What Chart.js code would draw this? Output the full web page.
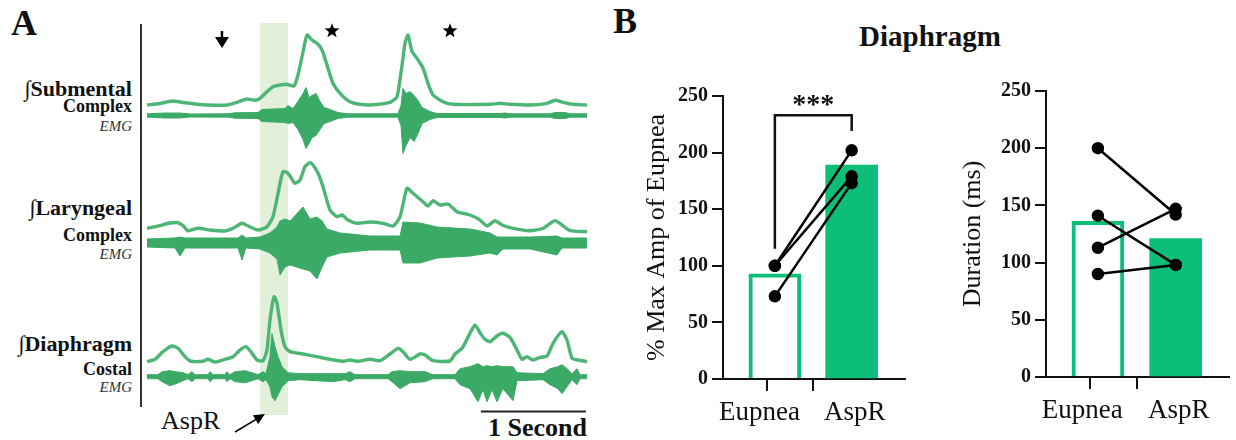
<!DOCTYPE html>
<html>
<head>
<meta charset="utf-8">
<script src="https://cdn.jsdelivr.net/npm/chart.js@4.4.0/dist/chart.umd.min.js"></script>
<style>
html, body { margin: 0; padding: 0; background: #fff; }
body { width: 1236px; height: 440px; position: relative; overflow: hidden;
       font-family: 'Liberation Serif', 'Times New Roman', serif; color: #111; }
canvas { position: absolute; }
.lbl { position: absolute; white-space: nowrap; line-height: 1; }
.trk { position: absolute; left: 0; width: 132px; text-align: right; line-height: 1; white-space: nowrap; }
.trk.name { font-size: 22px; font-weight: bold; }
.trk.sub { font-size: 18px; font-weight: bold; }
.trk.emg { font-size: 15px; font-style: italic; color: #333; }
.int { font-weight: normal; }
</style>
</head>
<body>
<div class="lbl" style="left:11px;top:5px;font-size:36px;font-weight:bold;">A</div>
<div class="lbl" style="left:613px;top:3px;font-size:36px;font-weight:bold;">B</div>
<div class="lbl" style="left:830px;top:22px;width:200px;text-align:center;font-size:29px;font-weight:bold;">Diaphragm</div>

<div class="trk name" style="top:78px;"><span class="int">∫</span>Submental</div>
<div class="trk sub" style="top:97px;">Complex</div>
<div class="trk emg" style="top:119px;">EMG</div>

<div class="trk name" style="top:197px;"><span class="int">∫</span>Laryngeal</div>
<div class="trk sub" style="top:226px;">Complex</div>
<div class="trk emg" style="top:247px;">EMG</div>

<div class="trk name" style="top:333px;"><span class="int">∫</span>Diaphragm</div>
<div class="trk sub" style="top:360px;">Costal</div>
<div class="trk emg" style="top:380px;">EMG</div>

<div class="lbl" style="left:161px;top:408px;font-size:26px;">AspR</div>
<div class="lbl" style="left:488px;top:415px;font-size:26px;font-weight:bold;">1 Second</div>

<canvas id="traces" width="450" height="417" style="left:140px;top:23px;"></canvas>
<canvas id="ampChart" width="272" height="358" style="left:640px;top:82px;"></canvas>
<canvas id="durChart" width="281" height="363" style="left:955px;top:77px;"></canvas>

<script>
// ---------- Panel A: recordings, time in s, amplitude in arbitrary units ----------
// integrated traces: [time, amplitude]
const submentalInt = [[0,0],[.124,1.5],[.238,4],[.343,2.5],[.476,0.7],[.571,0],[.762,0],[.857,2.7],[.952,6],[1.029,4.7],
  [1.076,6.7],[1.143,13.3],[1.2,18.3],[1.267,20],[1.333,20.7],[1.4,19],[1.438,30],[1.486,53],[1.524,70],[1.571,65],
  [1.619,61.7],[1.667,55],[1.714,40],[1.771,21.7],[1.838,11.7],[1.933,3.3],[2.029,0.7],[2.124,0],[2.314,2.7],[2.381,8.3],
  [2.429,40],[2.457,61.7],[2.486,70],[2.524,53.3],[2.571,46.7],[2.629,36.7],[2.676,21.7],[2.724,10],[2.819,3.3],[2.914,0.7],
  [3.267,0.7],[3.362,1.7],[3.457,0.7],[3.648,0],[3.81,1.7],[3.886,4.7],[3.962,2.7],[4.057,0.7],[4.19,0]];
const laryngealInt = [[0,3.7],[.124,6.3],[.2,8.7],[.295,9.3],[.343,6.3],[.39,1.3],[.486,3.7],[.6,2],[.743,1],[.819,3.7],
  [.905,8.7],[.962,6],[1.057,2],[1.143,5.3],[1.2,15.3],[1.248,38.7],[1.295,60.3],[1.343,58.7],[1.41,48.7],[1.457,52],
  [1.505,65.3],[1.552,69.3],[1.581,67],[1.629,58.7],[1.676,45.3],[1.743,22],[1.81,15.3],[1.857,17],[1.914,12],[2.0,8.7],
  [2.124,10],[2.248,8.7],[2.343,6],[2.41,15.3],[2.476,43.7],[2.533,38.7],[2.629,30.3],[2.676,26],[2.724,31.3],[2.79,27],
  [2.867,28],[2.952,20.3],[3.076,17],[3.171,12],[3.238,6],[3.314,11.3],[3.381,7],[3.486,3.7],[3.648,1.3],[3.771,3.7],
  [3.886,11.3],[3.952,7],[4.029,1.3],[4.19,0.3]];
const diaphragmInt = [[0,0.3],[.076,2.7],[.152,10.3],[.238,16],[.295,13.7],[.362,5.3],[.41,1],[.533,0.7],[.581,2.7],[.648,0],
  [.743,2.7],[.819,5.3],[.886,12],[.943,15.3],[1.0,8.7],[1.048,2],[1.105,1.3],[1.143,12],[1.171,42],[1.21,65.3],
  [1.238,58.7],[1.276,32],[1.314,15.3],[1.362,10.3],[1.486,8],[1.619,5.3],[1.743,2.7],[1.867,0.7],[1.933,2],[2.0,0.7],
  [2.124,2.7],[2.219,1.3],[2.314,8],[2.39,13.7],[2.438,10.3],[2.505,2.7],[2.6,8],[2.648,7],[2.724,1.3],[2.886,1],
  [2.933,8],[3.0,13.7],[3.076,28.7],[3.124,37],[3.171,29.3],[3.219,22.7],[3.267,20.3],[3.333,26],[3.39,28.7],[3.457,24.7],
  [3.524,12],[3.571,2.7],[3.619,5.3],[3.676,2],[3.743,4.7],[3.81,6],[3.867,18.7],[3.952,30.3],[4.0,22],[4.048,3.7],
  [4.105,2],[4.19,0.3]];

// raw EMG envelopes: [time, upper, lower]
const submentalEmg = [[0,1.7,1.7],[.171,2.5,2.5],[.314,2.5,2.5],[.41,1.5,1.5],[.771,1.7,1.7],[.838,2.7,2.7],[1.057,3,3],
  [1.095,6,6],[1.314,7,7],[1.343,10,8],[1.39,7,7],[1.438,14,14],[1.486,22,24],[1.514,28,33],[1.543,18,28],[1.571,20,22],
  [1.61,22,20],[1.648,14,14],[1.686,8,8],[1.743,6,6],[1.819,3,3],[1.905,1.7,1.7],[2.39,1.7,1.7],[2.419,10,10],
  [2.438,27,38],[2.467,22,30],[2.505,24,22],[2.543,20,26],[2.581,15,18],[2.619,8,8],[2.695,4,4],[2.762,2,2],
  [3.362,2,2],[3.41,2.5,2.5],[3.457,1.7,1.7],[3.838,1.7,1.7],[3.886,3,3],[3.981,3,3],[4.029,1.7,1.7],[4.19,1.7,1.7]];
const laryngealEmg = [[0,4,4],[.267,5,5],[.314,6,13],[.362,5,5],[.867,5,5],[.905,8,17],[.943,5,5],[1.076,6,6],
  [1.171,10,10],[1.238,16,16],[1.267,22,32],[1.314,24,24],[1.362,22,22],[1.486,36,26],[1.552,24,28],[1.619,26,36],
  [1.667,22,24],[1.714,14,14],[1.838,10,10],[2.124,7,7],[2.41,7,7],[2.438,21,20],[2.6,20,20],[2.762,16,15],
  [3.076,14,13],[3.267,10,10],[3.333,6,12],[3.39,6,6],[3.648,6,6],[3.905,7,12],[3.952,5,5],[4.19,5,5]];
const diaphragmEmg = [[0,2,2],[.105,2,2],[.143,5,5],[.219,6,9],[.276,5,7],[.343,4,4],[.39,2,2],[.429,5,5],[.457,2,2],
  [.581,2,2],[.6,5,5],[.629,2,2],[.743,2,2],[.762,5,5],[.79,2,2],[.838,5,5],[.933,6,6],[1.0,4,4],[1.057,2,2],
  [1.105,5,5],[1.133,3,3],[1.171,20,10],[1.19,43,20],[1.219,30,24],[1.248,20,18],[1.286,10,10],[1.343,4,4],
  [1.457,3,3],[1.771,3,5],[1.886,3,3],[1.933,5,5],[1.981,2,2],[2.295,2,2],[2.333,5,5],[2.41,6,12],[2.505,5,6],
  [2.648,5,5],[2.724,2,2],[2.933,2,2],[2.981,8,8],[3.076,10,12],[3.152,13,25],[3.2,10,13],[3.238,11,25],
  [3.286,10,13],[3.333,11,25],[3.39,10,12],[3.486,10,24],[3.524,4,4],[3.771,3,3],[3.838,8,8],[3.914,10,12],
  [3.952,12,17],[4.0,8,10],[4.048,3,3],[4.095,8,8],[4.124,2,2],[4.19,2,2]];

const aspRWindow = [1.076, 1.343];   // shaded aspiration reflex
const eupneaMarks = [0.714];         // arrow
const swallowMarks = [1.762, 2.886]; // stars
const scaleBar = [3.18, 1];          // start, length (s)

// ---------- Panel B: diaphragm ----------
const groups = ['Eupnea', 'AspR'];
const groupLabelShift = [-0.2, 0.04];  // labels sit a little off their tick marks
const yTicks = [0, 50, 100, 150, 200, 250];
const ampMeans = [93, 189];
const ampSubjects = [[100, 202], [100, 179], [73, 173]];
const ampSig = [233, 115, 219]; // bracket level, left drop, right drop
const durMeans = [136, 121];
const durSubjects = [[200, 142], [141, 98], [113, 147], [90, 98]];

const GREEN = '#0cbe78';
const INT_GREEN = '#4db575';
const EMG_GREEN = '#3aaa66';
const SERIF = "'Liberation Serif', 'Times New Roman', serif";

Chart.defaults.font.family = SERIF;
Chart.defaults.color = '#111';

// each hidden y axis puts its zero at a given pixel row, 1 unit = 1 px
const AREA_TOP = 23, AREA_BOTTOM = 415;
function track(baseY) {
  return { display: false, min: baseY - AREA_BOTTOM, max: baseY - AREA_TOP };
}

function intTrace(pts, axis) {
  return { data: pts.map(p => ({x: p[0], y: p[1]})), yAxisID: axis, borderColor: INT_GREEN,
           borderWidth: 3.4, pointRadius: 0, tension: 0.2, fill: false };
}
function emgBand(pts, axis) {
  return [
    { data: pts.map(p => ({x: p[0], y: p[1]})), yAxisID: axis, borderColor: EMG_GREEN,
      borderWidth: 1, pointRadius: 0, fill: false },
    { data: pts.map(p => ({x: p[0], y: -p[2]})), yAxisID: axis, borderColor: EMG_GREEN,
      backgroundColor: EMG_GREEN, borderWidth: 1, pointRadius: 0, fill: '-1' }
  ];
}

function star(ctx, cx, cy, r) {
  ctx.beginPath();
  for (let i = 0; i < 10; i++) {
    const a = -Math.PI / 2 + i * Math.PI / 5;
    const rr = i % 2 ? r * 0.42 : r;
    ctx.lineTo(cx + rr * Math.cos(a), cy + rr * Math.sin(a));
  }
  ctx.closePath();
  ctx.fill();
}

const traceDecor = {
  id: 'traceDecor',
  beforeDatasetsDraw(chart) {
    const {ctx, chartArea: a, scales: {x}} = chart;
    const xa = x.getPixelForValue(aspRWindow[0]), xb = x.getPixelForValue(aspRWindow[1]);
    ctx.save();
    ctx.fillStyle = '#e2efd9';
    ctx.fillRect(xa, a.top, xb - xa, a.bottom - a.top);
    ctx.fillStyle = '#333';
    ctx.fillRect(a.left, a.top + 1, 2, 383);
    ctx.restore();
  },
  afterDatasetsDraw(chart) {
    const {ctx, chartArea: a, scales: {x}} = chart;
    ctx.save();
    ctx.fillStyle = '#000';
    ctx.strokeStyle = '#000';
    eupneaMarks.forEach(t => {
      const px = x.getPixelForValue(t);
      ctx.lineWidth = 2.5;
      ctx.beginPath(); ctx.moveTo(px, a.top + 8); ctx.lineTo(px, a.top + 17); ctx.stroke();
      ctx.beginPath();
      ctx.moveTo(px - 7, a.top + 14); ctx.lineTo(px + 7, a.top + 14); ctx.lineTo(px, a.top + 25);
      ctx.closePath(); ctx.fill();
    });
    swallowMarks.forEach(t => star(ctx, x.getPixelForValue(t), a.top + 8, 7.8));
    // scale bar
    ctx.lineWidth = 2;
    ctx.strokeStyle = '#222';
    ctx.beginPath();
    ctx.moveTo(x.getPixelForValue(scaleBar[0]), a.bottom - 3.5);
    ctx.lineTo(x.getPixelForValue(scaleBar[0] + scaleBar[1]), a.bottom - 3.5);
    ctx.stroke();
    // arrow pointing at the AspR window
    const tipX = x.getPixelForValue(aspRWindow[0]) + 5, tipY = a.bottom - 1;
    const tailX = tipX - 30, tailY = tipY + 18;
    const ang = Math.atan2(tipY - tailY, tipX - tailX);
    ctx.strokeStyle = '#000';
    ctx.lineWidth = 1.5;
    ctx.beginPath(); ctx.moveTo(tailX, tailY); ctx.lineTo(tipX - 8 * Math.cos(ang), tipY - 8 * Math.sin(ang)); ctx.stroke();
    ctx.beginPath();
    ctx.moveTo(tipX, tipY);
    ctx.lineTo(tipX - 11 * Math.cos(ang) + 5 * Math.sin(ang), tipY - 11 * Math.sin(ang) - 5 * Math.cos(ang));
    ctx.lineTo(tipX - 11 * Math.cos(ang) - 5 * Math.sin(ang), tipY - 11 * Math.sin(ang) + 5 * Math.cos(ang));
    ctx.closePath(); ctx.fill();
    ctx.restore();
  }
};

new Chart(document.getElementById('traces'), {
  type: 'line',
  data: {
    datasets: [
      intTrace(submentalInt, 'sInt'),
      intTrace(laryngealInt, 'lInt'),
      intTrace(diaphragmInt, 'dInt'),
      ...emgBand(submentalEmg, 'sEmg'),
      ...emgBand(laryngealEmg, 'lEmg'),
      ...emgBand(diaphragmEmg, 'dEmg')
    ]
  },
  options: {
    responsive: false,
    animation: false,
    layout: { padding: { bottom: 25 } },
    plugins: { legend: { display: false }, tooltip: { enabled: false } },
    scales: {
      x: { type: 'linear', display: false, min: -0.0667, max: 4.219 },
      sInt: track(105),
      sEmg: track(115.5),
      lInt: track(232),
      lEmg: track(243),
      dInt: track(362),
      dEmg: track(376.7)
    }
  },
  plugins: [traceDecor]
});

const sigPlugin = {
  id: 'sig',
  afterDatasetsDraw(chart) {
    const {ctx, scales: {x, y}} = chart;
    const x0 = x.getPixelForValue(0), x1 = x.getPixelForValue(1);
    const yb = y.getPixelForValue(ampSig[0]);
    ctx.save();
    ctx.strokeStyle = '#111';
    ctx.lineWidth = 2.5;
    ctx.beginPath();
    ctx.moveTo(x0, y.getPixelForValue(ampSig[1]));
    ctx.lineTo(x0, yb);
    ctx.lineTo(x1, yb);
    ctx.lineTo(x1, y.getPixelForValue(ampSig[2]));
    ctx.stroke();
    ctx.fillStyle = '#111';
    ctx.font = "bold 28px 'Liberation Serif', serif";
    ctx.textAlign = 'center';
    ctx.textBaseline = 'alphabetic';
    ctx.fillText('***', (x0 + x1) / 2, yb - 2);
    ctx.restore();
  }
};

// x ticks: integer values carry the tick marks, shifted values carry the labels
function groupTicks() {
  const t = [];
  groups.forEach((g, i) => {
    t.push({value: i, mark: true});
    t.push({value: i + groupLabelShift[i], label: g});
  });
  return t.sort((a, b) => a.value - b.value);
}

function pairedChart(id, means, subjects, title, lay, extra) {
  const datasets = subjects.map(s => ({
    type: 'line',
    data: s.map((v, i) => ({x: i, y: v})),
    borderColor: '#000', backgroundColor: '#000', borderWidth: 2.5,
    pointRadius: 5, pointHoverRadius: 5, order: 1
  }));
  datasets.push({
    type: 'bar',
    data: means.map((v, i) => ({x: i, y: v})),
    backgroundColor: ['#ffffff', GREEN],
    borderColor: GREEN,
    borderWidth: [4, 0],
    borderSkipped: 'start',
    barThickness: 52,
    order: 2
  });
  const xt = groupTicks();
  return new Chart(document.getElementById(id), {
    type: 'bar',
    data: { datasets },
    options: {
      responsive: false,
      animation: false,
      layout: { padding: { top: 14, right: 0, left: 0, bottom: 0 } },
      plugins: { legend: { display: false }, tooltip: { enabled: false } },
      scales: {
        x: {
          type: 'linear', min: lay.xMin, max: lay.xMax, offset: false,
          afterBuildTicks: s => { s.ticks = xt.map(t => ({value: t.value})); },
          afterFit: s => { s.height = lay.xHeight; s.paddingLeft = 0; s.paddingRight = 0; },
          ticks: { callback: (v, i) => xt[i].label || '', font: { family: SERIF, size: 27 }, color: '#111',
                   padding: 6, maxRotation: 0, autoSkip: false },
          grid: { drawOnChartArea: false, tickLength: 12, lineWidth: 2,
                  color: c => (xt[c.index] && xt[c.index].mark) ? '#111' : 'rgba(0,0,0,0)' },
          border: { color: '#111', width: 2 }
        },
        y: {
          min: 0, max: 250,
          afterBuildTicks: s => { s.ticks = yTicks.map(v => ({value: v})); },
          afterFit: s => { s.width = lay.yWidth; s.paddingTop = 0; s.paddingBottom = 0; },
          ticks: { font: { family: SERIF, size: 20, weight: 'bold' }, color: '#111', padding: 4 },
          grid: { drawOnChartArea: false, tickLength: 11, color: '#111', lineWidth: 2 },
          border: { color: '#111', width: 2 },
          title: { display: true, text: title, font: { family: SERIF, size: 26 }, color: '#111',
                   padding: { top: lay.titlePad, bottom: 0 } }
        }
      }
    },
    plugins: extra
  });
}

pairedChart('ampChart', ampMeans, ampSubjects, '% Max Amp of Eupnea',
  { xMin: -0.675, xMax: 1.6875, xHeight: 61, yWidth: 83, titlePad: 1.4 }, [sigPlugin]);
pairedChart('durChart', durMeans, durSubjects, 'Duration (ms)',
  { xMin: -0.667, xMax: 1.679, xHeight: 63, yWidth: 91, titlePad: 2.4 }, []);
</script>
</body>
</html>
